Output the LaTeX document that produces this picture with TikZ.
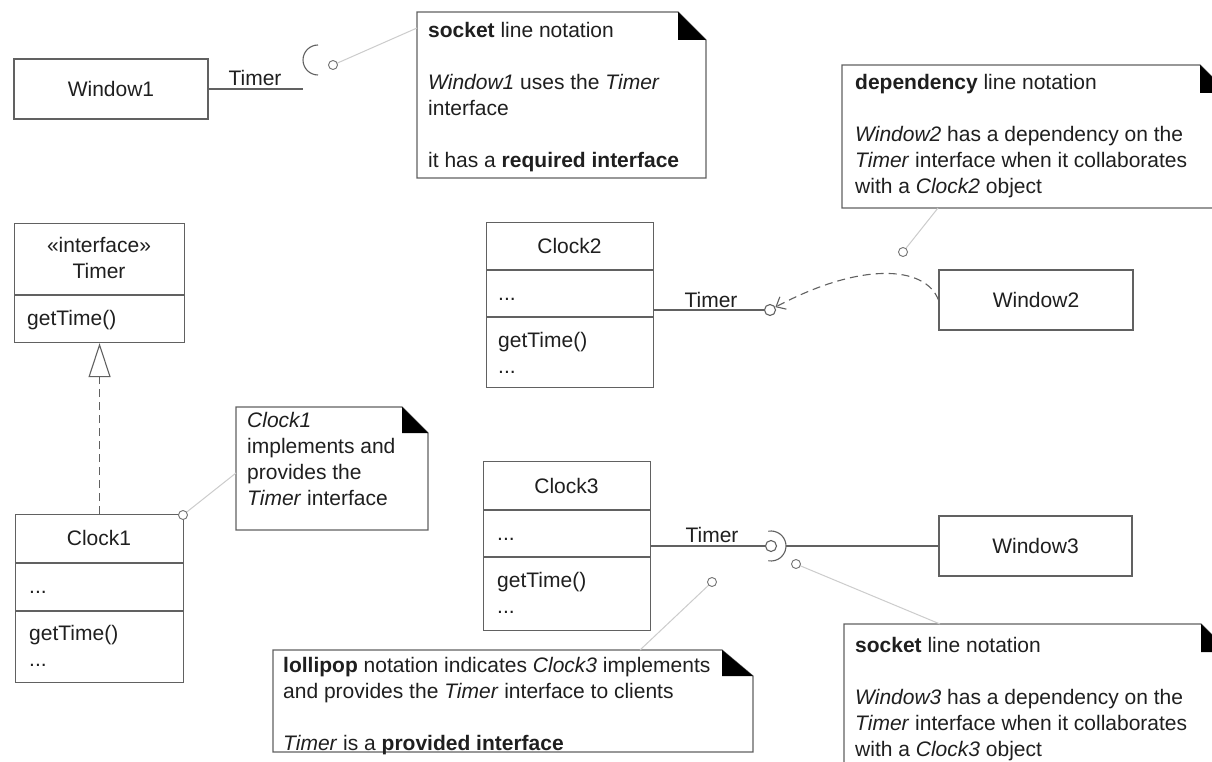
\documentclass[tikz,border=0pt]{standalone}
\usepackage{fontspec}
\setmainfont{Liberation Sans}
\usepackage{tikz}
\usetikzlibrary{arrows.meta,positioning,calc}

\begin{document}
\begin{tikzpicture}[x=1pt,y=-1pt,
    font=\fontsize{21pt}{26pt}\selectfont,
    every node/.append style={text=black!88},
    umlbox/.style={draw=black!62, line width=1.1pt, inner sep=0pt},
    umlline/.style={draw=black!62, line width=1.1pt},
    noteline/.style={draw=black!20, line width=1pt},
    notedot/.style={circle, draw=black!55, line width=0.9pt, fill=white, minimum size=9pt, inner sep=0pt},
    lolli/.style={circle, draw=black!62, line width=1.1pt, fill=white, minimum size=11pt, inner sep=0pt},
    notetext/.style={anchor=north west, align=left, inner sep=0pt},
    dashy/.style={dash pattern=on 8pt off 5pt}]

  \useasboundingbox (0,0) rectangle (1212,762);
  \fill[white] (0,0) rectangle (1212,762);

  % ── Window1 and its socket ──────────────────────────────────────────
  \node[umlbox, minimum width=194pt, minimum height=60pt] (win1) at (111,89) {Window1};
  \coordinate (sock1) at (303,89);
  \draw[umlline] (win1.east) -- (sock1);
  \draw[umlline] (318,75) arc (90:270:15);
  \node[anchor=base, inner sep=0pt] (lab1) at (255,86) {Timer};

  % ── note: required interface ────────────────────────────────────────
  \draw[umlline] (417,12) -- (678,12) -- (706,40) -- (706,178) -- (417,178) -- cycle;
  \fill[black] (678,12) -- (678,40) -- (706,40) -- cycle;
  \node[notetext] (note1) at (428,22)
    {\textbf{socket} line notation\\[26pt]\textit{Window1} uses the \textit{Timer}\\interface\\[26pt]it has a \textbf{required interface}};
  \coordinate (att1) at (417,28);
  \draw[noteline] (333,65) -- (att1);
  \node[notedot] (dot1) at (333,65) {};

  % ── the Timer interface and Clock1 ──────────────────────────────────
  \node[umlbox, anchor=north west, minimum width=170pt, minimum height=119pt] (timer) at (14,223) {};
  \draw[umlline] (14,295) -- (184,295);
  \node[align=center, anchor=north, inner sep=0pt] (timername) at (99,237) {«interface»\\Timer};
  \node[anchor=base west, inner sep=0pt] (timerop) at (27,325) {getTime()};

  \node[umlbox, anchor=north west, minimum width=168pt, minimum height=168pt] (clk1) at (15,514) {};
  \draw[umlline] (15,563) -- (183,563);
  \draw[umlline] (15,611) -- (183,611);
  \node[inner sep=0pt] (clk1name) at (99,538) {Clock1};
  \node[anchor=base west, inner sep=0pt] (clk1attr) at (29,593) {...};
  \node[notetext] (clk1ops) at (29,625) {getTime()\\...};

  \draw[umlline, dashy, -{Triangle[open, length=34pt, width=22pt, fill=white]}] (clk1.north) -- (timer.south);

  % ── note: Clock1 provides Timer ─────────────────────────────────────
  \draw[umlline] (236,407) -- (402,407) -- (428,433) -- (428,530) -- (236,530) -- cycle;
  \fill[black] (402,407) -- (402,433) -- (428,433) -- cycle;
  \node[notetext] (note3) at (247,412)
    {\textit{Clock1}\\implements and\\provides the\\\textit{Timer} interface};
  \coordinate (att3) at (236,473);
  \draw[noteline] (183,515) -- (att3);
  \node[notedot] (dot3) at (183,515) {};

  % ── Clock2, Window2 and the dependency ──────────────────────────────
  \node[umlbox, anchor=north west, minimum width=167pt, minimum height=165pt] (clk2) at (486,222) {};
  \draw[umlline] (486,270) -- (653,270);
  \draw[umlline] (486,317) -- (653,317);
  \node[inner sep=0pt] (clk2name) at (569.5,246) {Clock2};
  \node[anchor=base west, inner sep=0pt] (clk2attr) at (498,300) {...};
  \node[notetext] (clk2ops) at (498,332) {getTime()\\...};

  \node[lolli] (lolli2) at (770,310) {};
  \draw[umlline] (lolli2 -| clk2.east) -- (lolli2);
  \node[anchor=base, inner sep=0pt] (lab2) at (711,307) {Timer};

  \node[umlbox, minimum width=194pt, minimum height=60pt] (win2) at (1036,300) {Window2};
  \draw[umlline, dashy, -{Straight Barb[length=8pt, width=14pt]}]
        (win2.west) .. controls (925,265) and (860,262) .. (lolli2);

  % ── note: dependency line ───────────────────────────────────────────
  \draw[umlline] (842,65) -- (1200,65) -- (1228,93) -- (1228,208) -- (842,208) -- cycle;
  \fill[black] (1200,65) -- (1200,93) -- (1228,93) -- cycle;
  \node[notetext] (note2) at (855,74)
    {\textbf{dependency} line notation\\[26pt]\textit{Window2} has a dependency on the\\\textit{Timer} interface when it collaborates\\with a \textit{Clock2} object};
  \coordinate (att2) at (938,208);
  \draw[noteline] (903,252) -- (att2);
  \node[notedot] (dot2) at (903,252) {};

  % ── Clock3, Window3, ball and socket ────────────────────────────────
  \node[umlbox, anchor=north west, minimum width=167pt, minimum height=169pt] (clk3) at (483,461) {};
  \draw[umlline] (483,510) -- (650,510);
  \draw[umlline] (483,557) -- (650,557);
  \node[inner sep=0pt] (clk3name) at (566.5,485.5) {Clock3};
  \node[anchor=base west, inner sep=0pt] (clk3attr) at (497,540) {...};
  \node[notetext] (clk3ops) at (497,572) {getTime()\\...};

  \node[lolli] (lolli3) at (771,546) {};
  \draw[umlline] (lolli3 -| clk3.east) -- (lolli3);
  \draw[umlline] (771,546) ++(-100:15) arc (-100:100:15);
  \node[anchor=base, inner sep=0pt] (lab3) at (712,542) {Timer};

  \node[umlbox, minimum width=193pt, minimum height=60pt] (win3) at (1035.5,546) {Window3};
  \coordinate (sock3) at (786,546);
  \draw[umlline] (sock3) -- (win3.west);

  % ── note: lollipop ──────────────────────────────────────────────────
  \draw[umlline] (273,650) -- (722,650) -- (753,676) -- (753,752) -- (273,752) -- cycle;
  \fill[black] (722,650) -- (722,676) -- (753,676) -- cycle;
  \node[notetext] (note4) at (283,657)
    {\textbf{lollipop} notation indicates \textit{Clock3} implements\\and provides the \textit{Timer} interface to clients\\[26pt]\textit{Timer} is a \textbf{provided interface}};
  \coordinate (att4) at (640,650);
  \draw[noteline] (712,582) -- (att4);
  \node[notedot] (dot4) at (712,582) {};

  % ── note: socket on Window3 ─────────────────────────────────────────
  \draw[umlline] (844,780) -- (844,624) -- (1201,624) -- (1229,652) -- (1229,780);
  \fill[black] (1201,624) -- (1201,652) -- (1229,652) -- cycle;
  \node[notetext] (note5) at (855,637)
    {\textbf{socket} line notation\\[26pt]\textit{Window3} has a dependency on the\\\textit{Timer} interface when it collaborates\\with a \textit{Clock3} object};
  \coordinate (att5) at (940,624);
  \draw[noteline] (796,564) -- (att5);
  \node[notedot] (dot5) at (796,564) {};

\end{tikzpicture}
\end{document}
